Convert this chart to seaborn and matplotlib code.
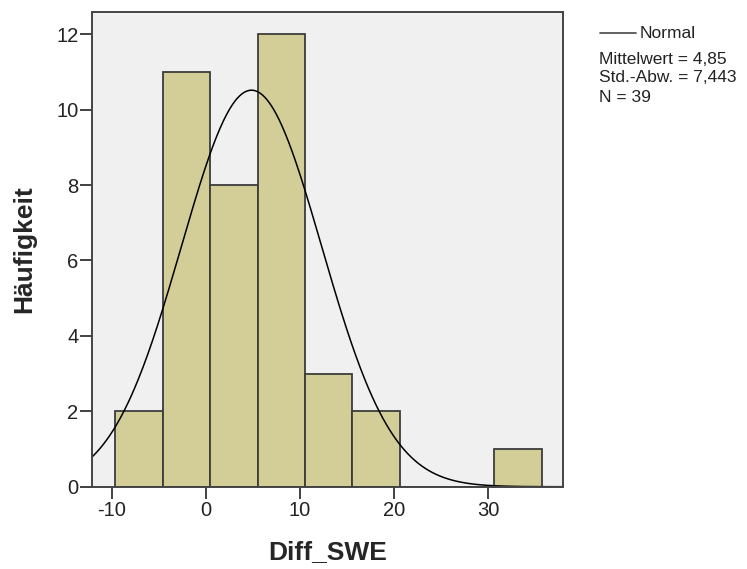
import numpy as np
import matplotlib
matplotlib.use("Agg")
import matplotlib.pyplot as plt
import seaborn as sns

# histogram bins (SPSS style, width ~5.03)
bin_edges = [-9.6, -4.57, 0.46, 5.49, 10.52, 15.55, 20.58, 25.61, 30.64, 35.67]
counts = [2, 11, 8, 12, 3, 2, 0, 0, 1]

# summary stats shown in the legend
mean_val = 4.85
sd_val = 7.443
n_obs = 39

x_ticks = [-10, 0, 10, 20, 30]
y_ticks = [0, 2, 4, 6, 8, 10, 12]

sns.set_style("ticks")
plt.rcParams['font.family'] = ['Liberation Sans', 'DejaVu Sans']
plt.rcParams['axes.unicode_minus'] = False

fig = plt.figure(figsize=(7.47, 5.69), dpi=100)
ax = fig.add_axes([0.1236, 0.1446, 0.6304, 0.8338])
ax.set_facecolor("#f0f0f0")

centers = [(bin_edges[i] + bin_edges[i + 1]) / 2 for i in range(len(counts))]
sns.histplot(x=centers, weights=counts, bins=bin_edges, ax=ax,
             color="#d3ce97", alpha=1, edgecolor="#3c3c3c", linewidth=1.3)

# normal curve scaled to the counts
width = bin_edges[1] - bin_edges[0]
xs = np.linspace(-12.06, 37.96, 400)
ys = n_obs * width / (sd_val * np.sqrt(2 * np.pi)) * np.exp(-0.5 * ((xs - mean_val) / sd_val) ** 2)
sns.lineplot(x=xs, y=ys, ax=ax, color="black", linewidth=1.1)

ax.set_xlim(-12.06, 37.96)
ax.set_ylim(0, 12.58)
ax.set_xticks(x_ticks)
ax.set_yticks(y_ticks)
ax.tick_params(axis="both", labelsize=14.5, length=8.5, width=1.3,
               color="#333333", labelcolor="#222222", pad=1.5)
for s in ax.spines.values():
    s.set_visible(True)
    s.set_color("#444444")
    s.set_linewidth(1.4)

ax.set_xlabel("Diff_SWE", fontsize=19, fontweight="bold", labelpad=15)
ax.set_ylabel("Häufigkeit", fontsize=19, fontweight="bold", labelpad=14)

# legend text on the right, SPSS style
fig.add_artist(plt.Line2D([600 / 747, 636 / 747], [1 - 33 / 569, 1 - 33 / 569],
                          color="#555555", linewidth=1.3))
fig.text(640 / 747, 1 - 33 / 569, "Normal", fontsize=12.5, va="center", color="#222222")
stats = ["Mittelwert = 4,85", "Std.-Abw. = 7,443", "N = 39"]
for i, line in enumerate(stats):
    fig.text(599 / 747, 1 - (59 + 19 * i) / 569, line, fontsize=12.5,
             va="center", color="#222222")

fig.savefig("out.png", dpi=100)
